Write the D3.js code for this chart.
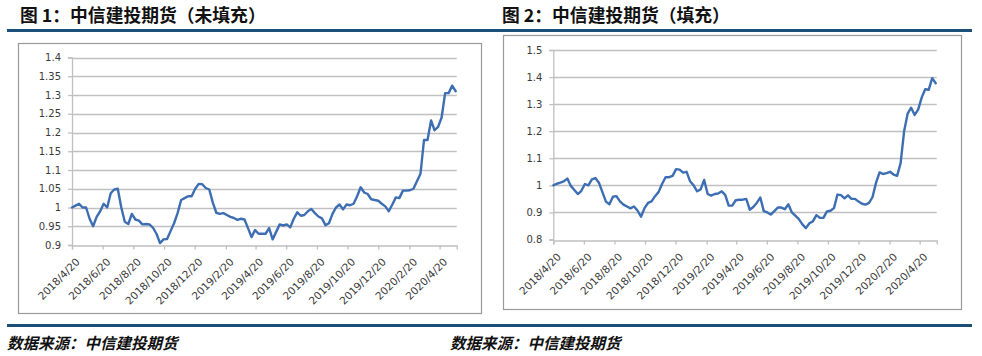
<!DOCTYPE html>
<html>
<head>
<meta charset="utf-8">
<script src="https://cdn.jsdelivr.net/npm/d3@7"></script>
<style>
  html, body { margin: 0; padding: 0; background: #ffffff; }
  svg { display: block; }
</style>
</head>
<body>
<svg id="root" width="982" height="356"></svg>
<script>
// ---------------- data ----------------
const titles = ["图 1：中信建投期货（未填充）", "图 2：中信建投期货（填充）"];
const sourceText = "数据来源：中信建投期货";
const seriesStart = "2018-04-20";          // weekly readings start here
const axisEnd = "2020-05-24";
const xTickLabels = ["2018/4/20","2018/6/20","2018/8/20","2018/10/20","2018/12/20",
  "2019/2/20","2019/4/20","2019/6/20","2019/8/20","2019/10/20","2019/12/20",
  "2020/2/20","2020/4/20"];
const fig1YTicks = [0.9,0.95,1,1.05,1.1,1.15,1.2,1.25,1.3,1.35,1.4];
const fig2YTicks = [0.8,0.9,1,1.1,1.2,1.3,1.4,1.5];

const fig1Values = [
  1.0,1.005,1.01,1.0,1.0,0.97,0.95,0.975,0.99,1.01,
  1.0,1.038,1.048,1.05,1.0,0.962,0.956,0.983,0.968,0.965,
  0.955,0.956,0.955,0.946,0.93,0.905,0.915,0.916,0.937,0.958,
  0.985,1.02,1.025,1.03,1.03,1.05,1.063,1.062,1.052,1.048,
  1.013,0.986,0.983,0.985,0.98,0.975,0.972,0.967,0.97,0.968,
  0.945,0.921,0.94,0.93,0.93,0.93,0.945,0.915,0.935,0.955,
  0.952,0.955,0.947,0.97,0.987,0.978,0.98,0.99,0.996,0.985,
  0.976,0.971,0.953,0.958,0.983,1.0,1.008,0.995,1.008,1.006,
  1.01,1.03,1.054,1.04,1.036,1.022,1.02,1.018,1.01,1.003,
  0.99,1.008,1.027,1.025,1.045,1.045,1.046,1.05,1.07,1.09,
  1.18,1.18,1.232,1.206,1.215,1.24,1.305,1.305,1.325,1.31];

const fig2Values = [
  1.0,1.006,1.01,1.015,1.025,0.998,0.983,0.968,0.98,1.005,
  1.0,1.022,1.027,1.01,0.975,0.94,0.93,0.958,0.96,0.941,
  0.929,0.922,0.915,0.922,0.907,0.884,0.916,0.935,0.941,0.96,
  0.975,1.005,1.03,1.03,1.035,1.06,1.058,1.047,1.05,1.015,
  1.0,0.978,0.985,1.02,0.968,0.962,0.968,0.97,0.978,0.965,
  0.925,0.925,0.945,0.947,0.947,0.95,0.91,0.92,0.935,0.955,
  0.905,0.9,0.892,0.905,0.918,0.918,0.912,0.93,0.9,0.888,
  0.875,0.856,0.842,0.86,0.867,0.89,0.88,0.88,0.904,0.906,
  0.916,0.966,0.964,0.952,0.963,0.95,0.95,0.94,0.932,0.929,
  0.935,0.957,1.01,1.048,1.042,1.045,1.05,1.04,1.035,1.082,
  1.2,1.265,1.287,1.26,1.28,1.324,1.355,1.353,1.396,1.377];

// ---------------- drawing ----------------
const svg = d3.select("#root");
const parseISO = d3.timeParse("%Y-%m-%d");
const parseTick = d3.timeParse("%Y/%m/%d");
const fmtTick = d => `${d.getFullYear()}/${d.getMonth()+1}/${d.getDate()}`;
const start = parseISO(seriesStart);
const BLUE_RULE = "#1b4f78";
const LINE = "#3d6eb3";
const GRID = "#c0c0c0";
const TXT = "#3a3a3a";

// header / footer rules
svg.append("rect").attr("x", 7).attr("y", 29).attr("width", 965).attr("height", 3).attr("fill", BLUE_RULE);
svg.append("rect").attr("x", 7).attr("y", 324).attr("width", 965).attr("height", 3).attr("fill", BLUE_RULE);

function drawChart(o) {
  const g = svg.append("g");
  g.append("text").attr("x", o.titleX).attr("y", 22)
    .attr("font-family", "'Noto Sans CJK SC', sans-serif").attr("font-weight", 700)
    .attr("font-size", 17.8).attr("fill", "#111").text(o.title);
  g.append("text").attr("x", o.srcX).attr("y", 349)
    .attr("font-family", "'Noto Sans CJK SC', sans-serif").attr("font-weight", 700)
    .attr("font-style", "italic").attr("font-size", 15.5).attr("fill", "#111").text(sourceText);

  g.append("rect").attr("x", o.box[0] + 0.5).attr("y", o.box[1] + 0.5)
    .attr("width", o.box[2] - o.box[0]).attr("height", o.box[3] - o.box[1])
    .attr("fill", "#fff").attr("stroke", "#9a9a9a").attr("stroke-width", 1.2);

  const data = o.values.map((v, i) => ({ d: d3.timeDay.offset(start, 7 * i), v }));
  const x = d3.scaleTime().domain([start, parseISO(axisEnd)]).range([o.plot[0], o.plot[1]]);
  const y = d3.scaleLinear().domain(o.yDomain).range([o.plot[3], o.plot[2]]);

  // gridlines
  g.append("g").selectAll("line").data(o.yTicks.filter(t => t !== o.yDomain[0])).join("line")
    .attr("x1", o.plot[0]).attr("x2", o.plot[1])
    .attr("y1", d => Math.round(y(d)) + 0.5).attr("y2", d => Math.round(y(d)) + 0.5)
    .attr("stroke", GRID).attr("stroke-width", 1.3);

  // y axis
  const ya = g.append("g").attr("transform", `translate(${o.plot[0]},0)`)
    .call(d3.axisLeft(y).tickValues(o.yTicks).tickSize(4).tickPadding(7).tickFormat(d => String(+d.toFixed(2))));
  ya.select(".domain").attr("stroke", GRID).attr("stroke-width", 1.3);
  ya.selectAll(".tick line").attr("stroke", GRID).attr("stroke-width", 1.3);
  ya.selectAll(".tick text").attr("font-family", "'DejaVu Sans', sans-serif").attr("font-size", 10).attr("fill", TXT);

  // x axis
  const tickDates = xTickLabels.map(parseTick);
  const xa = g.append("g").attr("transform", `translate(0,${Math.round(o.plot[3]) + 0.5})`)
    .call(d3.axisBottom(x).tickValues(tickDates).tickSize(4).tickFormat(fmtTick));
  xa.select(".domain").attr("stroke", GRID).attr("stroke-width", 1.3);
  xa.selectAll(".tick line").attr("stroke", GRID).attr("stroke-width", 1.3);
  xa.selectAll(".tick text")
    .attr("font-family", "'DejaVu Sans', sans-serif").attr("font-size", 10.5).attr("fill", TXT)
    .attr("text-anchor", "end").attr("dy", null).attr("y", 0)
    .attr("transform", "translate(8,17) rotate(-45)");

  // series line
  g.append("path").datum(data)
    .attr("fill", "none").attr("stroke", LINE).attr("stroke-width", 2.4)
    .attr("stroke-linejoin", "round").attr("stroke-linecap", "round")
    .attr("d", d3.line().x(d => x(d.d)).y(d => y(d.v)));
}

drawChart({
  title: titles[0], titleX: 20, srcX: 7,
  box: [18, 43, 481, 313], plot: [72, 456.7, 57.5, 245],
  yDomain: [0.9, 1.4], yTicks: fig1YTicks, values: fig1Values
});
drawChart({
  title: titles[1], titleX: 502, srcX: 450,
  box: [503, 35, 961, 309], plot: [553.3, 936.7, 50, 239.5],
  yDomain: [0.8, 1.5], yTicks: fig2YTicks, values: fig2Values
});
</script>
</body>
</html>
